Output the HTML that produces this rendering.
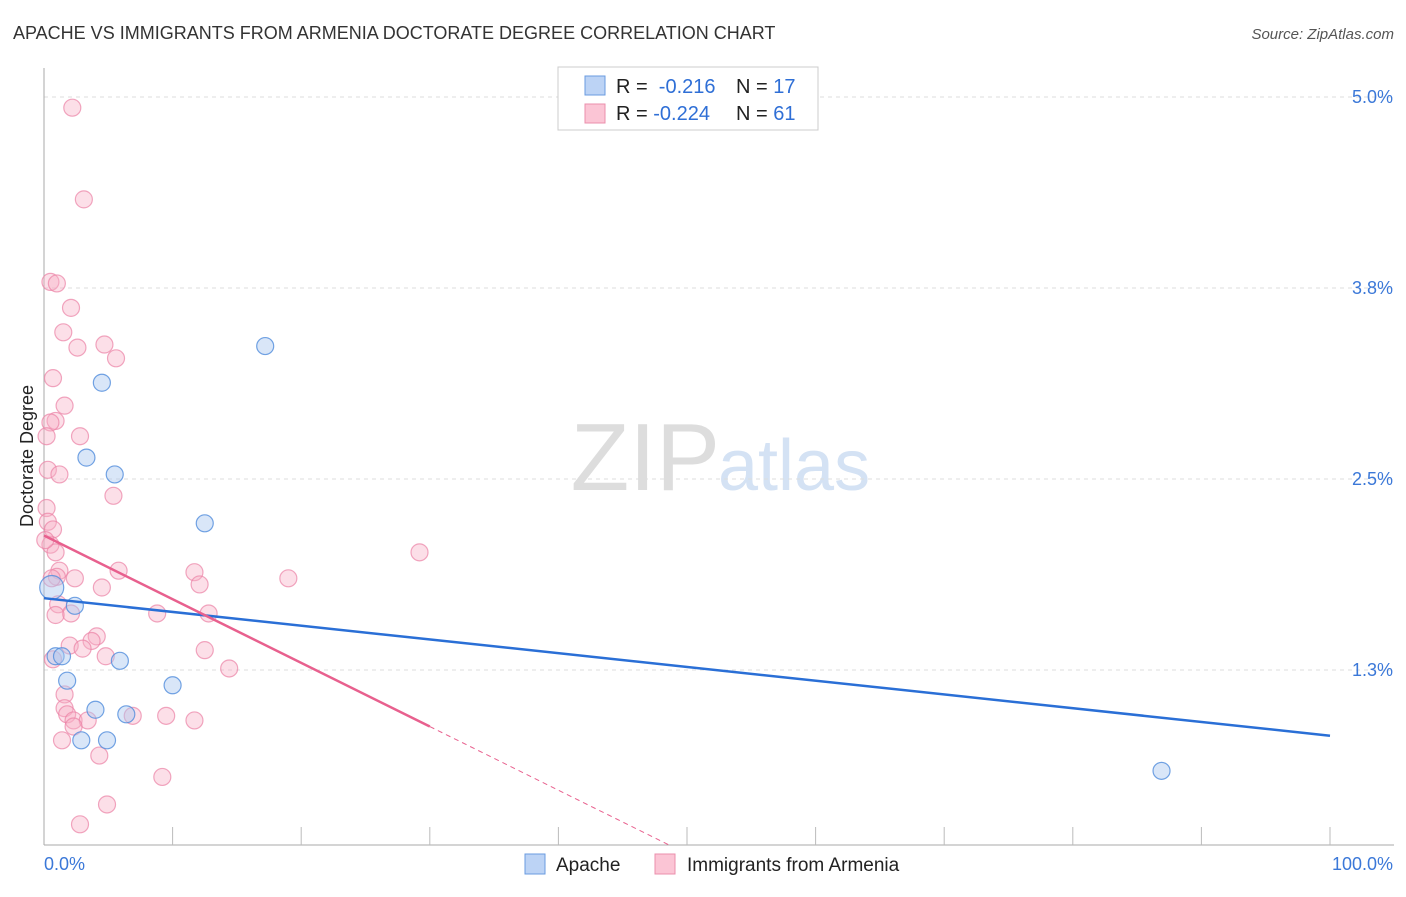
<!DOCTYPE html>
<html><head><meta charset="utf-8"><style>
body{margin:0;background:#fff;font-family:"Liberation Sans",sans-serif;}
svg text{font-family:"Liberation Sans",sans-serif;}
</style></head><body>
<svg id="c" width="1406" height="892" viewBox="0 0 1406 892">
<text x="13" y="39" font-size="18" fill="#333">APACHE VS IMMIGRANTS FROM ARMENIA DOCTORATE DEGREE CORRELATION CHART</text>
<text x="1394" y="39" font-size="15" fill="#555" font-style="italic" text-anchor="end">Source: ZipAtlas.com</text>
<text x="720" y="490" font-size="96" fill="#ddd" text-anchor="end" font-family="Liberation Serif">ZIP</text>
<text x="718" y="490" font-size="72" fill="#d4e2f4">atlas</text>
<text transform="translate(33,456) rotate(-90)" font-size="18" fill="#222" text-anchor="middle">Doctorate Degree</text>
<g id="grid"></g><g id="axes"></g><g id="pts"></g><g id="lines"></g>
<g>
<rect x="558" y="67" width="260" height="63" fill="#fff" stroke="#ccc"/>
<rect x="585" y="76" width="20" height="19" fill="#bcd3f5" stroke="#6a9be0"/>
<rect x="585" y="104" width="20" height="19" fill="#fbc5d5" stroke="#eb8fac"/>
<text x="616" y="93" font-size="20" fill="#222">R = <tspan fill="#2f6fd6">&#160;-0.216</tspan><tspan x="736">N = </tspan><tspan fill="#2f6fd6">17</tspan></text>
<text x="616" y="120" font-size="20" fill="#222">R = <tspan fill="#2f6fd6">-0.224</tspan><tspan x="736">N = </tspan><tspan fill="#2f6fd6">61</tspan></text>
</g>
<g>
<rect x="525" y="854" width="20" height="20" fill="#bcd3f5" stroke="#6a9be0"/>
<text x="556" y="871" font-size="19" fill="#222">Apache</text>
<rect x="655" y="854" width="20" height="20" fill="#fbc5d5" stroke="#eb8fac"/>
<text x="687" y="871" font-size="19" fill="#222">Immigrants from Armenia</text>
</g>
</svg>
<script>
const yTicks=[5.0,3.75,2.5,1.25];
const yTickLabels=["5.0%","3.8%","2.5%","1.3%"];
const xTickCount=10;
const apacheX=[17.2,4.5,3.3,5.5,12.5,0.6,2.4,0.9,1.4,5.9,10.0,1.8,4.0,6.4,2.9,4.9,86.9];
const apacheY=[3.37,3.13,2.64,2.53,2.21,1.79,1.67,1.34,1.34,1.31,1.15,1.18,0.99,0.96,0.79,0.79,0.59];
const armX=[2.2,3.1,0.5,1.0,2.1,1.5,2.6,4.7,5.6,0.7,1.6,0.9,0.5,2.8,0.2,5.4,0.2,0.3,0.7,0.5,0.9,1.2,1.0,2.4,5.8,11.7,12.1,4.5,19.0,29.2,1.1,2.1,8.8,12.8,2.0,4.1,3.7,3.0,4.8,12.5,14.4,1.6,1.6,1.8,2.3,3.4,2.3,9.5,11.7,6.9,1.4,4.3,9.2,4.9,2.8,0.7,0.6,0.9,0.3,1.2,0.1];
const armY=[4.93,4.33,3.79,3.78,3.62,3.46,3.36,3.38,3.29,3.16,2.98,2.88,2.87,2.78,2.78,2.39,2.31,2.22,2.17,2.07,2.02,1.90,1.86,1.85,1.90,1.89,1.81,1.79,1.85,2.02,1.68,1.62,1.62,1.62,1.41,1.47,1.44,1.39,1.34,1.38,1.26,1.09,1.00,0.96,0.92,0.92,0.88,0.95,0.92,0.95,0.79,0.69,0.55,0.37,0.24,1.32,1.85,1.61,2.56,2.53,2.10];
const apacheTrend=[1.72,0.82];
const armTrend=[2.13,0.88]; const armSolidEnd=30;
const X=v=>44+v*12.86, Y=v=>97+(5-v)*152.8, BOT=845;
const NS="http://www.w3.org/2000/svg";
function mk(p,t,a){const e=document.createElementNS(NS,t);for(const k in a)e.setAttribute(k,a[k]);document.getElementById(p).appendChild(e);return e;}
yTicks.forEach((v,i)=>{
 const l=mk('grid','line',{x1:44,x2:1394,y1:Y(v),y2:Y(v),stroke:'#ddd','stroke-dasharray':'4,4'});
 
 
 const t=mk('grid','text',{x:1393,y:Y(v)+6,'font-size':18,fill:'#3b78d8','text-anchor':'end'});
 t.textContent=yTickLabels[i];
 
 
});
mk('axes','line',{x1:44,x2:44,y1:68,y2:BOT,stroke:'#aaa'});
mk('axes','line',{x1:44,x2:1394,y1:BOT,y2:BOT,stroke:'#aaa'});
for(let i=1;i<=xTickCount;i++){const tk=mk('axes','line',{x1:X(i*10),x2:X(i*10),y1:BOT-18,y2:BOT,stroke:'#bbb'});
 
 }
let t0=mk('axes','text',{x:44,y:870,'font-size':18,fill:'#3b78d8'});t0.textContent='0.0%';


let t1=mk('axes','text',{x:1393,y:870,'font-size':18,fill:'#3b78d8','text-anchor':'end'});t1.textContent='100.0%';


armX.forEach((x,i)=>{const c=mk('pts','circle',{cx:X(x),cy:Y(armY[i]),r:8.5,fill:'rgba(248,175,198,0.4)',stroke:'rgba(235,130,165,0.7)','stroke-width':1.2});
 
 });
apacheX.forEach((x,i)=>{const c=mk('pts','circle',{cx:X(x),cy:Y(apacheY[i]),r:i==5?12:8.5,fill:'rgba(170,200,240,0.45)',stroke:'rgba(80,140,220,0.8)','stroke-width':1.2});
 
 });
const bl=mk('lines','line',{x1:X(0),y1:Y(apacheTrend[0]),x2:X(100),y2:Y(apacheTrend[1]),stroke:'#2a6fd6','stroke-width':2.5});


const sl=(armTrend[1]-armTrend[0])/armSolidEnd;
const pl=mk('lines','line',{x1:X(0),y1:Y(armTrend[0]),x2:X(armSolidEnd),y2:Y(armTrend[1]),stroke:'#e8608e','stroke-width':2.5});


const vb=5-(BOT-97)/152.8, xe=(vb-armTrend[0])/sl;
const pd=mk('lines','line',{x1:X(armSolidEnd),y1:Y(armTrend[1]),x2:X(xe),y2:BOT,stroke:'#e8608e','stroke-width':1,'stroke-dasharray':'5,4'});


</script>
</body></html>
